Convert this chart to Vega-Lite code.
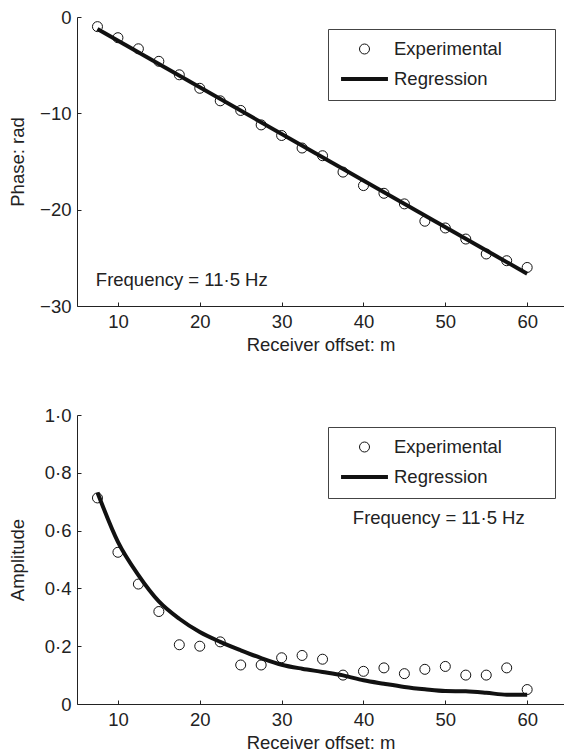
{
  "$schema": "https://vega.github.io/schema/vega-lite/v6.json",
  "background": "white",
  "padding": {"left": 8, "top": 8, "right": 0, "bottom": 0},
  "config": {
    "font": "Liberation Sans",
    "view": {"stroke": null},
    "axis": {
      "grid": false,
      "domainColor": "#222",
      "tickColor": "#222",
      "tickSize": -4,
      "labelFontSize": 18.5,
      "titleFontSize": 18.5,
      "titleFontWeight": "normal",
      "labelColor": "#222",
      "titleColor": "#222",
      "labelPadding": 10,
      "labelFlush": false,
      "labelOverlap": false
    },
    "legend": {
      "orient": "none",
      "legendX": 251,
      "legendY": 12,
      "strokeColor": "#444",
      "padding": 11,
      "columns": 1,
      "labelFontSize": 18.5,
      "labelColor": "#222",
      "labelOffset": 4,
      "clipHeight": 18,
      "rowPadding": 11,
      "symbolStrokeColor": "#111",
      "symbolFillColor": "transparent",
      "title": null
    },
    "text": {"font": "Liberation Sans", "fontSize": 18.5, "color": "#222"}
  },
  "datasets": {
    "phaseExp": [
      {"x": 7.5, "y": -1.0, "series": "Experimental"},
      {"x": 10, "y": -2.15, "series": "Experimental"},
      {"x": 12.5, "y": -3.3, "series": "Experimental"},
      {"x": 15, "y": -4.6, "series": "Experimental"},
      {"x": 17.5, "y": -6.0, "series": "Experimental"},
      {"x": 20, "y": -7.4, "series": "Experimental"},
      {"x": 22.5, "y": -8.7, "series": "Experimental"},
      {"x": 25, "y": -9.7, "series": "Experimental"},
      {"x": 27.5, "y": -11.2, "series": "Experimental"},
      {"x": 30, "y": -12.3, "series": "Experimental"},
      {"x": 32.5, "y": -13.6, "series": "Experimental"},
      {"x": 35, "y": -14.4, "series": "Experimental"},
      {"x": 37.5, "y": -16.1, "series": "Experimental"},
      {"x": 40, "y": -17.5, "series": "Experimental"},
      {"x": 42.5, "y": -18.3, "series": "Experimental"},
      {"x": 45, "y": -19.4, "series": "Experimental"},
      {"x": 47.5, "y": -21.2, "series": "Experimental"},
      {"x": 50, "y": -21.9, "series": "Experimental"},
      {"x": 52.5, "y": -23.05, "series": "Experimental"},
      {"x": 55, "y": -24.6, "series": "Experimental"},
      {"x": 57.5, "y": -25.3, "series": "Experimental"},
      {"x": 60, "y": -26.0, "series": "Experimental"}
    ],
    "phaseReg": [
      {"x": 7.5, "y": -1.25},
      {"x": 60, "y": -26.65}
    ],
    "ampExp": [
      {"x": 7.5, "y": 0.713, "series": "Experimental"},
      {"x": 10, "y": 0.525, "series": "Experimental"},
      {"x": 12.5, "y": 0.415, "series": "Experimental"},
      {"x": 15, "y": 0.32, "series": "Experimental"},
      {"x": 17.5, "y": 0.205, "series": "Experimental"},
      {"x": 20, "y": 0.2, "series": "Experimental"},
      {"x": 22.5, "y": 0.215, "series": "Experimental"},
      {"x": 25, "y": 0.135, "series": "Experimental"},
      {"x": 27.5, "y": 0.135, "series": "Experimental"},
      {"x": 30, "y": 0.16, "series": "Experimental"},
      {"x": 32.5, "y": 0.168, "series": "Experimental"},
      {"x": 35, "y": 0.155, "series": "Experimental"},
      {"x": 37.5, "y": 0.1, "series": "Experimental"},
      {"x": 40, "y": 0.113, "series": "Experimental"},
      {"x": 42.5, "y": 0.125, "series": "Experimental"},
      {"x": 45, "y": 0.105, "series": "Experimental"},
      {"x": 47.5, "y": 0.12, "series": "Experimental"},
      {"x": 50, "y": 0.13, "series": "Experimental"},
      {"x": 52.5, "y": 0.1, "series": "Experimental"},
      {"x": 55, "y": 0.1, "series": "Experimental"},
      {"x": 57.5, "y": 0.125, "series": "Experimental"},
      {"x": 60, "y": 0.05, "series": "Experimental"}
    ],
    "ampReg": [
      {"x": 7.5, "y": 0.732},
      {"x": 10, "y": 0.561},
      {"x": 12.5, "y": 0.446},
      {"x": 15, "y": 0.355},
      {"x": 17.5, "y": 0.295},
      {"x": 20, "y": 0.249},
      {"x": 22.5, "y": 0.215},
      {"x": 25, "y": 0.186},
      {"x": 27.5, "y": 0.159},
      {"x": 30, "y": 0.136},
      {"x": 32.5, "y": 0.122},
      {"x": 35, "y": 0.111},
      {"x": 37.5, "y": 0.099},
      {"x": 40, "y": 0.082},
      {"x": 42.5, "y": 0.07},
      {"x": 45, "y": 0.059},
      {"x": 47.5, "y": 0.051},
      {"x": 50, "y": 0.045},
      {"x": 52.5, "y": 0.044},
      {"x": 55, "y": 0.039},
      {"x": 57.5, "y": 0.032},
      {"x": 60, "y": 0.032}
    ]
  },
  "spacing": 52,
  "resolve": {
    "scale": {"x": "independent", "y": "independent", "shape": "independent", "size": "independent", "strokeWidth": "independent"},
    "legend": {"shape": "independent", "size": "independent", "strokeWidth": "independent"}
  },
  "vconcat": [
    {
      "width": 487,
      "height": 289,
      "layer": [
        {
          "data": {"name": "phaseReg"},
          "mark": {"type": "line", "color": "#111", "strokeWidth": 4},
          "encoding": {
            "x": {"field": "x", "type": "quantitative", "scale": {"domain": [5, 64.5], "nice": false, "zero": false},
              "axis": {"values": [10, 20, 30, 40, 50, 60], "title": "Receiver offset: m", "titlePadding": 5}},
            "y": {"field": "y", "type": "quantitative", "scale": {"domain": [-30, 0], "nice": false},
              "axis": {"values": [0, -10, -20, -30], "title": "Phase: rad", "titlePadding": 12}}
          }
        },
        {
          "data": {"name": "phaseExp"},
          "mark": {"type": "point", "filled": false, "color": "#111", "opacity": 1},
          "encoding": {
            "x": {"field": "x", "type": "quantitative"},
            "y": {"field": "y", "type": "quantitative"},
            "shape": {"field": "series", "type": "nominal", "scale": {"domain": ["Experimental", "Regression"], "range": ["circle", "stroke"]},
              "legend": {"labelExpr": "datum.label + '\u00a0\u00a0\u00a0\u00a0\u00a0\u00a0\u00a0\u00a0\u200b'"}},
            "size": {"field": "series", "type": "ordinal", "scale": {"domain": ["Experimental", "Regression"], "range": [100, 2200]},
              "legend": {"labelExpr": "datum.label + '\u00a0\u00a0\u00a0\u00a0\u00a0\u00a0\u00a0\u00a0\u200b'"}},
            "strokeWidth": {"field": "series", "type": "ordinal", "scale": {"domain": ["Experimental", "Regression"], "range": [1, 4]},
              "legend": {"labelExpr": "datum.label + '\u00a0\u00a0\u00a0\u00a0\u00a0\u00a0\u00a0\u00a0\u200b'"}}
          }
        },
        {
          "data": {"values": [{}]},
          "mark": {"type": "text", "align": "left", "baseline": "middle"},
          "encoding": {
            "x": {"datum": 7.3},
            "y": {"datum": -27.3},
            "text": {"value": "Frequency = 11·5 Hz"}
          }
        }
      ]
    },
    {
      "width": 487,
      "height": 289,
      "layer": [
        {
          "data": {"name": "ampReg"},
          "mark": {"type": "line", "color": "#111", "strokeWidth": 4, "interpolate": "monotone"},
          "encoding": {
            "x": {"field": "x", "type": "quantitative", "scale": {"domain": [5, 64.5], "nice": false, "zero": false},
              "axis": {"values": [10, 20, 30, 40, 50, 60], "title": "Receiver offset: m", "titlePadding": 5}},
            "y": {"field": "y", "type": "quantitative", "scale": {"domain": [0, 1], "nice": false},
              "axis": {"values": [0, 0.2, 0.4, 0.6, 0.8, 1], "title": "Amplitude", "titlePadding": 17,
                "labelExpr": "datum.value == 0 ? '0' : replace(format(datum.value, '.1f'), '.', '·')"}}
          }
        },
        {
          "data": {"name": "ampExp"},
          "mark": {"type": "point", "filled": false, "color": "#111", "opacity": 1},
          "encoding": {
            "x": {"field": "x", "type": "quantitative"},
            "y": {"field": "y", "type": "quantitative"},
            "shape": {"field": "series", "type": "nominal", "scale": {"domain": ["Experimental", "Regression"], "range": ["circle", "stroke"]},
              "legend": {"labelExpr": "datum.label + '\u00a0\u00a0\u00a0\u00a0\u00a0\u00a0\u00a0\u00a0\u200b'"}},
            "size": {"field": "series", "type": "ordinal", "scale": {"domain": ["Experimental", "Regression"], "range": [100, 2200]},
              "legend": {"labelExpr": "datum.label + '\u00a0\u00a0\u00a0\u00a0\u00a0\u00a0\u00a0\u00a0\u200b'"}},
            "strokeWidth": {"field": "series", "type": "ordinal", "scale": {"domain": ["Experimental", "Regression"], "range": [1, 4]},
              "legend": {"labelExpr": "datum.label + '\u00a0\u00a0\u00a0\u00a0\u00a0\u00a0\u00a0\u00a0\u200b'"}}
          }
        },
        {
          "data": {"values": [{}]},
          "mark": {"type": "text", "align": "left", "baseline": "middle"},
          "encoding": {
            "x": {"datum": 38.7},
            "y": {"datum": 0.644},
            "text": {"value": "Frequency = 11·5 Hz"}
          }
        }
      ]
    }
  ]
}
